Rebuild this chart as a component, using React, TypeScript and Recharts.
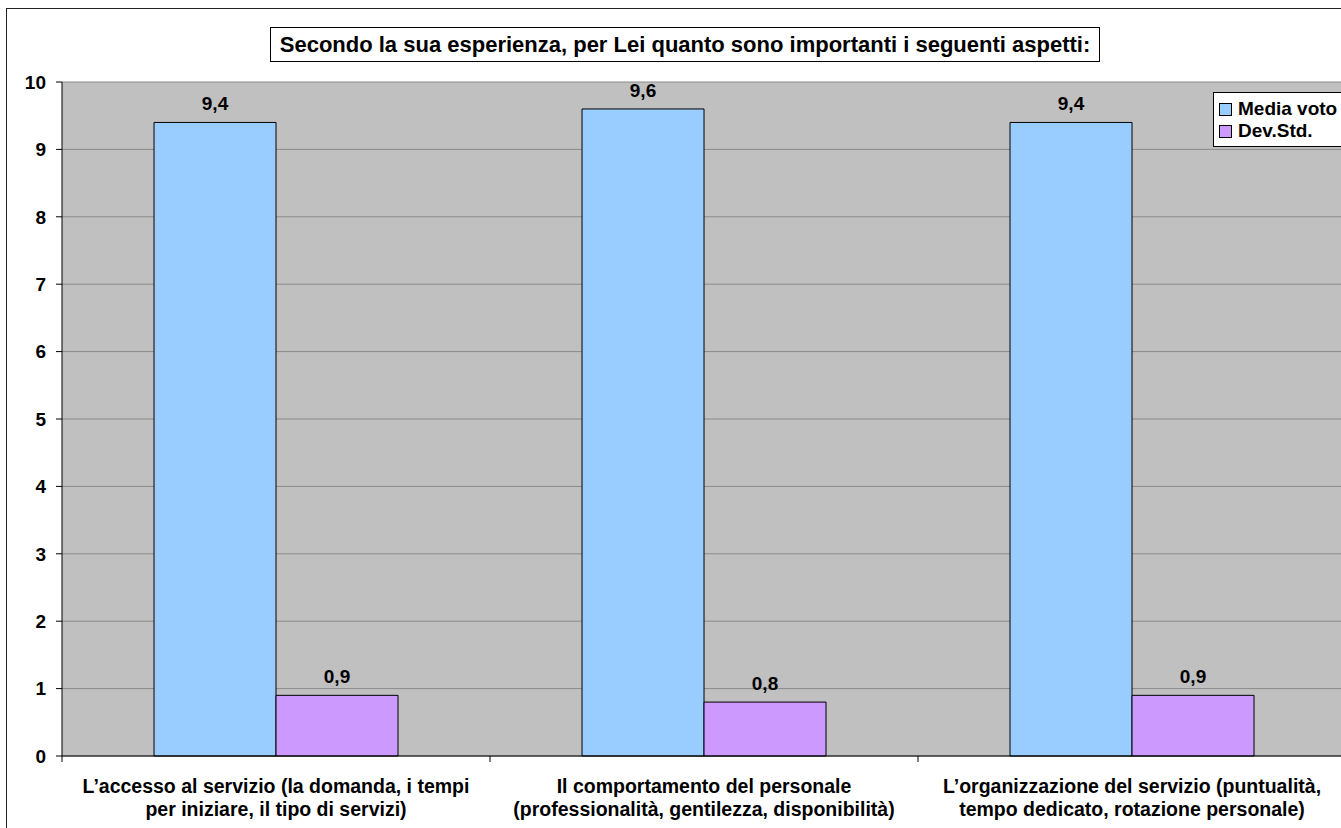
import {
  Bar,
  BarChart,
  CartesianGrid,
  LabelList,
  XAxis,
  YAxis,
} from 'recharts';

const categories = [
  ['L\u2019accesso al servizio (la domanda, i tempi', 'per iniziare, il tipo di servizi)'],
  ['Il comportamento del personale', '(professionalità, gentilezza, disponibilità)'],
  ['L\u2019organizzazione del servizio (puntualità,', 'tempo dedicato, rotazione personale)'],
];
const mediaVoto = [9.4, 9.6, 9.4];
const devStd = [0.9, 0.8, 0.9];
const yTicks = [0, 1, 2, 3, 4, 5, 6, 7, 8, 9, 10];

const FONT = '"Liberation Sans", Arial, sans-serif';
const BLUE = '#99CCFF';
const PURPLE = '#CC99FF';
const FS = 19;

const data = categories.map((lines, i) => ({
  name: lines.join(' '),
  media: mediaVoto[i],
  dev: devStd[i],
}));

const fmt = (v: unknown) => String(v).replace('.', ',');

function CategoryTick(props: any) {
  const { x, y, payload, index } = props;
  const lines = categories[index] ?? [payload.value];
  const edge = x - (payload.offset ?? 0);
  return (
    <g>
      <line x1={edge} x2={edge} y1={y} y2={y + 6} stroke="#000" />
      <text
        x={x}
        y={y}
        textAnchor="middle"
        fontFamily={FONT}
        fontWeight="bold"
        fontSize={19.5}
        fill="#000"
      >
        {lines.map((l, i) => (
          <tspan key={i} x={x} dy={i === 0 ? 37 : 23}>
            {l}
          </tspan>
        ))}
      </text>
    </g>
  );
}

function LegendBox() {
  const items = [
    { label: 'Media voto', color: BLUE },
    { label: 'Dev.Std.', color: PURPLE },
  ];
  return (
    <div
      style={{
        position: 'absolute',
        left: 1213,
        top: 92,
        width: 160,
        height: 55,
        boxSizing: 'border-box',
        background: '#fff',
        border: '1px solid #000',
        padding: '5px 0 0 5px',
        fontFamily: FONT,
        fontWeight: 'bold',
        fontSize: FS,
        lineHeight: '22px',
        whiteSpace: 'nowrap',
      }}
    >
      {items.map((it) => (
        <div key={it.label} style={{ display: 'flex', alignItems: 'center' }}>
          <span
            style={{
              display: 'inline-block',
              width: 11,
              height: 11,
              background: it.color,
              border: '1px solid #000',
              marginRight: 6,
            }}
          />
          {it.label}
        </div>
      ))}
    </div>
  );
}

export default function App() {
  return (
    <div
      style={{
        position: 'fixed',
        left: 0,
        top: 0,
        width: 1341,
        height: 828,
        overflow: 'hidden',
        background: '#fff',
      }}
    >
      <div
        style={{
          position: 'absolute',
          left: 6,
          top: 8,
          width: 1400,
          height: 900,
          border: '1.5px solid #222',
        }}
      />
      <div
        style={{
          position: 'absolute',
          left: 270,
          top: 27,
          width: 830,
          height: 35,
          boxSizing: 'border-box',
          border: '1px solid #000',
          background: '#fff',
          fontFamily: FONT,
          fontWeight: 'bold',
          fontSize: 22,
          lineHeight: '33px',
          textAlign: 'center',
          whiteSpace: 'nowrap',
        }}
      >
        Secondo la sua esperienza, per Lei quanto sono importanti i seguenti aspetti:
      </div>
      <BarChart
        width={1346}
        height={828}
        data={data}
        margin={{ top: 82, right: 0, bottom: 12, left: 0 }}
        barCategoryGap="21.5%"
        barGap={0}
        style={{ position: 'absolute', left: 0, top: 0 }}
      >
        <CartesianGrid
          vertical={false}
          fill="#C0C0C0"
          fillOpacity={1}
          stroke="#8a8a8a"
        />
        <XAxis
          dataKey="name"
          height={60}
          interval={0}
          axisLine={{ stroke: '#000', strokeWidth: 1 }}
          tickLine={false}
          tickSize={0}
          tickMargin={0}
          tick={<CategoryTick />}
        />
        <YAxis
          width={62}
          domain={[0, 10]}
          ticks={yTicks}
          interval={0}
          tickSize={6}
          tickMargin={10}
          axisLine={{ stroke: '#000' }}
          tickLine={{ stroke: '#000' }}
          tick={{ fontFamily: FONT, fontWeight: 'bold', fontSize: FS, fill: '#000' }}
        />
        <Bar
          dataKey="media"
          name="Media voto"
          fill={BLUE}
          stroke="#000"
          strokeWidth={1}
          isAnimationActive={false}
        >
          <LabelList
            dataKey="media"
            position="top"
            offset={12}
            formatter={fmt}
            style={{ fontFamily: FONT, fontWeight: 'bold', fontSize: FS, fill: '#000' }}
          />
        </Bar>
        <Bar
          dataKey="dev"
          name="Dev.Std."
          fill={PURPLE}
          stroke="#000"
          strokeWidth={1}
          isAnimationActive={false}
        >
          <LabelList
            dataKey="dev"
            position="top"
            offset={12}
            formatter={fmt}
            style={{ fontFamily: FONT, fontWeight: 'bold', fontSize: FS, fill: '#000' }}
          />
        </Bar>
      </BarChart>
      <LegendBox />
    </div>
  );
}
